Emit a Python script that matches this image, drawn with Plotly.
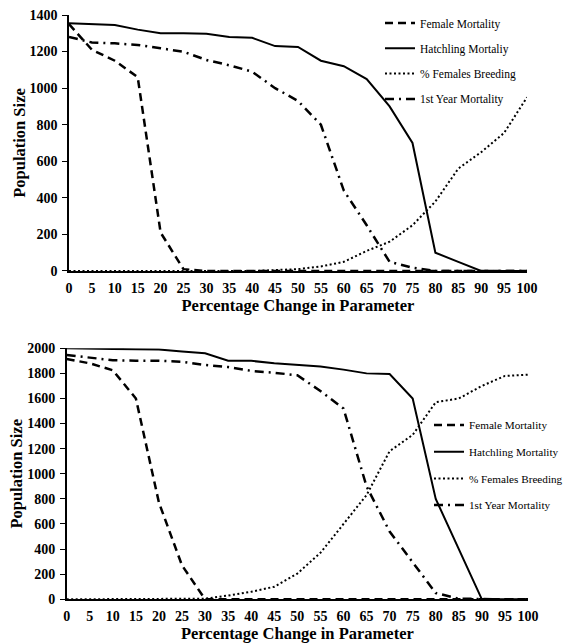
import plotly.graph_objects as go

# ---------------- data ----------------
pct = list(range(0, 101, 5))

# Top chart
top_female = [1350, 1210, 1150, 1060, 210, 10, 0, 0, 0, 0, 0, 0, 0, 0, 0, 0, 0, 0, 0, 0, 0]
top_hatch = [1355, 1350, 1345, 1320, 1300, 1300, 1297, 1280, 1275, 1230, 1225, 1150, 1120, 1050, 900, 700, 100, 50, 0, 0, 0]
top_breed = [0, 0, 0, 0, 0, 0, 0, 0, 0, 5, 10, 25, 50, 110, 160, 250, 380, 560, 650, 755, 950]
top_first = [1280, 1250, 1245, 1236, 1218, 1199, 1154, 1125, 1090, 1000, 930, 800, 440, 250, 50, 18, 0, 0, 0, 0, 0]

# Bottom chart
bot_female = [1915, 1880, 1825, 1600, 770, 270, 0, 0, 0, 0, 0, 0, 0, 0, 0, 0, 0, 0, 0, 0, 0]
bot_hatch = [2000, 2000, 1995, 1993, 1990, 1975, 1960, 1900, 1900, 1880, 1870, 1855, 1830, 1800, 1795, 1600, 800, 400, 0, 0, 0]
bot_breed = [0, 0, 0, 0, 0, 0, 5, 30, 60, 100, 205, 370, 600, 830, 1180, 1310, 1570, 1600, 1700, 1780, 1790]
bot_first = [1946, 1928, 1905, 1901, 1901, 1893, 1867, 1850, 1820, 1805, 1785, 1660, 1520, 900, 540, 295, 50, 5, 0, 0, 0]

top_names = ["Female Mortality", "Hatchling Mortaliy", "% Females Breeding", "1st Year Mortality"]
bot_names = ["Female Mortality", "Hatchling Mortality", "% Females Breeding", "1st Year Mortality"]

x_ticks = list(range(0, 101, 5))
top_y_ticks = list(range(0, 1401, 200))
bot_y_ticks = list(range(0, 2001, 200))

# ---------------- styles ----------------
styles = [
    dict(color="black", width=2.5, dash="8px,5px"),
    dict(color="black", width=2, dash="solid"),
    dict(color="black", width=2, dash="2px,2.5px"),
    dict(color="black", width=2.5, dash="9px,5px,2px,5px"),
]

FONT = "Liberation Serif, Times New Roman, serif"

fig = go.Figure()

for i, (vals, name) in enumerate(zip([top_female, top_hatch, top_breed, top_first], top_names)):
    fig.add_trace(go.Scatter(x=pct, y=vals, name=name, mode="lines", line=styles[i],
                             xaxis="x", yaxis="y", legend="legend",
                             legendgroup="t%d" % i))

for i, (vals, name) in enumerate(zip([bot_female, bot_hatch, bot_breed, bot_first], bot_names)):
    fig.add_trace(go.Scatter(x=pct, y=vals, name=name, mode="lines", line=styles[i],
                             xaxis="x2", yaxis="y2", legend="legend2",
                             legendgroup="b%d" % i))

tickfont = dict(family=FONT, size=14, color="black", weight="bold")
titlefont = dict(family=FONT, size=16.5, color="black", weight="bold")

def xaxis(domain, anchor):
    return dict(domain=domain, anchor=anchor, range=[0, 100], tickvals=x_ticks,
                showgrid=False, zeroline=False, showline=True, linecolor="black",
                linewidth=2, ticks="", ticklabelstandoff=3, tickfont=tickfont,
                automargin=False,
                title=dict(text="Percentage Change in Parameter", font=titlefont, standoff=4))

def yaxis(domain, anchor, rng, ticks):
    return dict(domain=domain, anchor=anchor, range=rng, tickvals=ticks,
                showgrid=False, zeroline=False, showline=True, linecolor="black",
                linewidth=1.5, ticks="outside", ticklen=5, tickcolor="black",
                ticklabelstandoff=2, tickfont=tickfont, automargin=False,
                title=dict(text="Population Size", font=titlefont, standoff=0))

fig.update_layout(
    width=568, height=644,
    margin=dict(l=0, r=0, t=0, b=0),
    paper_bgcolor="white", plot_bgcolor="white",
    font=dict(family=FONT, color="black"),
    xaxis=xaxis([0.1215, 0.9278], "y"),
    yaxis=yaxis([0.5792, 0.9767], "x", [0, 1400], top_y_ticks),
    xaxis2=xaxis([0.1174, 0.9296], "y2"),
    yaxis2=yaxis([0.0694, 0.4592], "x2", [0, 2000], bot_y_ticks),
    legend=dict(x=0.669, y=0.9868, xanchor="left", yanchor="top",
                font=dict(family=FONT, size=11.5, color="black"),
                bgcolor="rgba(0,0,0,0)", itemwidth=30, tracegroupgap=6.3,
                traceorder="grouped"),
    legend2=dict(x=1.0, y=0.3626, xanchor="right", yanchor="top",
                 font=dict(family=FONT, size=11.2, color="black"),
                 bgcolor="rgba(0,0,0,0)", itemwidth=30, tracegroupgap=7.7,
                 traceorder="grouped"),
    showlegend=True,
)

fig.write_html("out.html", config={"displayModeBar": False},
               post_script="document.body.style.margin='0px';")
